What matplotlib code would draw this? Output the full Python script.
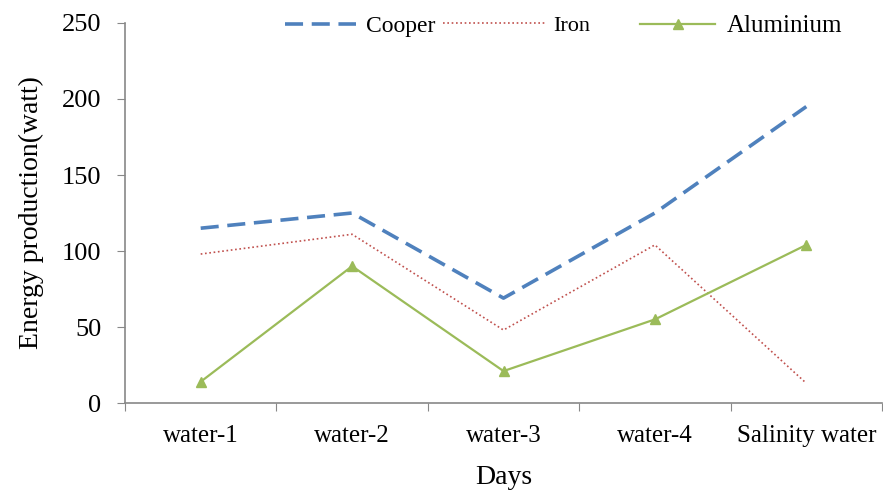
import matplotlib
matplotlib.use("Agg")
import matplotlib.pyplot as plt

categories = ["water-1", "water-2", "water-3", "water-4", "Salinity water"]
cooper = [115, 125, 69, 125, 195]
iron = [98, 111, 48, 104, 13]
aluminium = [14, 90, 21, 55, 104]

plt.rcParams['font.family'] = ['Liberation Serif', 'DejaVu Serif']

W, H = 883, 493
fig = plt.figure(figsize=(W / 100, H / 100), dpi=100)
ax = fig.add_axes([125 / W, 90 / H, 757 / W, 380 / H])

x = list(range(len(categories)))
l1, = ax.plot(x, cooper, color='#4F81BD', lw=2.6, linestyle=(0, (5, 2.4)), label='Cooper')
l2, = ax.plot(x, iron, color='#C0504D', lw=1.2, linestyle=(0, (1, 1.6)), label='Iron')
l3, = ax.plot(x, aluminium, color='#9BBB59', lw=1.6, marker='^', markersize=7, label='Aluminium')

ax.set_xlim(-0.5, 4.5)
ax.set_ylim(0, 250)
ax.set_yticks([0, 50, 100, 150, 200, 250])
ax.set_xticks([i - 0.5 for i in range(6)])
ax.set_xticklabels([])
ax.set_xticks(x, minor=True)
ax.set_xticklabels(categories, minor=True)
ax.tick_params(axis='x', which='minor', length=0, pad=16, labelsize=18)
ax.tick_params(axis='x', which='major', length=6, color='#888888', direction='out')
ax.tick_params(axis='y', length=6, color='#888888', direction='out', labelsize=19, pad=11)

for s in ['top', 'right']:
    ax.spines[s].set_visible(False)
for s in ['left', 'bottom']:
    ax.spines[s].set_color('#888888')
    ax.spines[s].set_linewidth(1.2)

ax.set_ylabel('Energy production(watt)', fontsize=20, labelpad=13)
ax.set_xlabel('Days', fontsize=20, labelpad=13)

def add_leg(handle, label, x0, size, hl, tp):
    lg = fig.legend([handle], [label], loc='center left',
                    bbox_to_anchor=(x0 / W, (H - 26) / H), frameon=False,
                    fontsize=size, handlelength=hl, handletextpad=tp,
                    borderpad=0, borderaxespad=0)
    return lg

add_leg(l1, 'Cooper', 285, 17, 3.0, 0.42)
add_leg(l2, 'Iron', 443, 16, 4.6, 0.36)
add_leg(l3, 'Aluminium', 640, 18, 3.0, 0.48)

fig.savefig('out.png', dpi=100)
